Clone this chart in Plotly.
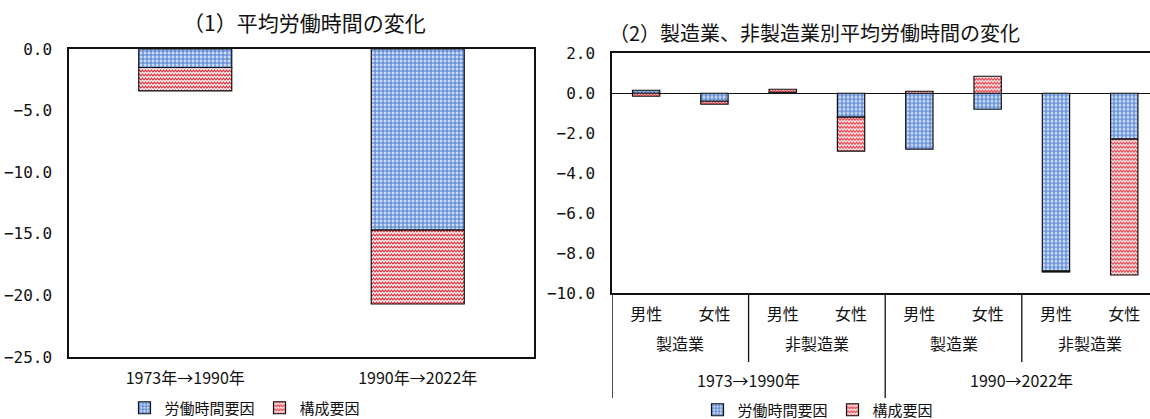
import plotly.graph_objects as go

# ---- data -------------------------------------------------------------
# (1) 平均労働時間の変化
periods_all = ["1973年→1990年", "1990年→2022年"]
hours_factor_all = [-1.5, -14.7]
composition_factor_all = [-1.9, -6.0]

# (2) 製造業、非製造業別平均労働時間の変化
sexes = ["男性", "女性", "男性", "女性", "男性", "女性", "男性", "女性"]
industries = ["製造業", "非製造業", "製造業", "非製造業"]
periods_ind = ["1973→1990年", "1990→2022年"]
hours_factor_ind = [0.15, -0.4, 0.05, -1.2, -2.8, -0.8, -8.9, -2.3]
composition_factor_ind = [-0.15, -0.15, 0.15, -1.7, 0.1, 0.85, -0.05, -6.8]

series_names = ["労働時間要因", "構成要因"]
left_tick_vals = [0, -5, -10, -15, -20, -25]
right_tick_vals = [2, 0, -2, -4, -6, -8, -10]

# ---- styling ----------------------------------------------------------
W, H = 1150, 419
FONT = "Noto Sans CJK JP"
NUM_FONT = "DejaVu Sans Mono"
INK = "#111111"


def px_x(p):
    return p / W


def px_y(p):
    return 1 - p / H


blue_pattern = dict(shape="+", fgcolor="#4a7bd0", bgcolor="#cddcf5",
                    size=4, solidity=0.45, fillmode="replace")
red_pattern = dict(shape="-", fgcolor="#e52b38", bgcolor="#ffffff",
                   size=4, solidity=0.4, fillmode="replace")

fig = go.Figure()

# left panel
for name, vals, pat in [
    (series_names[0], hours_factor_all, blue_pattern),
    (series_names[1], composition_factor_all, red_pattern),
]:
    fig.add_trace(go.Bar(
        x=periods_all, y=vals, name=name, xaxis="x", yaxis="y",
        marker=dict(color="white", pattern=pat, line=dict(color=INK, width=1.2)),
        legend="legend", hoverinfo="skip",
    ))

# right panel (numeric x positions, one per sex/industry/period bar)
xpos = list(range(1, len(sexes) + 1))
for name, vals, pat in [
    (series_names[0], hours_factor_ind, blue_pattern),
    (series_names[1], composition_factor_ind, red_pattern),
]:
    fig.add_trace(go.Bar(
        x=xpos, y=vals, name=name, xaxis="x2", yaxis="y2",
        marker=dict(color="white", pattern=pat, line=dict(color=INK, width=1.2)),
        legend="legend2", hoverinfo="skip",
    ))

catfont = dict(family=FONT, size=16, color=INK)
numfont = dict(family=NUM_FONT, size=16, color=INK)

right_x_end = 0.5 + (W - 612) / 68.3

fig.update_layout(
    width=W, height=H,
    margin=dict(l=0, r=0, t=0, b=0, autoexpand=False),
    paper_bgcolor="white", plot_bgcolor="white",
    barmode="relative", bargap=0.6,
    font=dict(family=FONT, color=INK),
    xaxis=dict(domain=[px_x(69), px_x(534)], showline=True, mirror=True,
               linecolor=INK, linewidth=1.5, showgrid=False, ticks="",
               tickfont=catfont, ticklabelstandoff=6),
    yaxis=dict(domain=[px_y(357), px_y(49)], range=[-25, 0],
               tickvals=left_tick_vals, tickformat=".1f",
               showline=True, mirror=True, linecolor=INK, linewidth=1.5,
               showgrid=False, zeroline=False, ticks="",
               tickfont=numfont, ticklabelstandoff=12),
    xaxis2=dict(domain=[px_x(612), 1], range=[0.5, right_x_end],
                tickvals=xpos, ticktext=sexes,
                showline=True, mirror=True, linecolor=INK, linewidth=1.5,
                showgrid=False, zeroline=False, ticks="",
                tickfont=catfont, ticklabelstandoff=6, anchor="y2"),
    yaxis2=dict(domain=[px_y(293), px_y(53.3)], range=[-10, 2],
                tickvals=right_tick_vals, tickformat=".1f",
                showline=True, mirror=False, linecolor=INK, linewidth=1.5,
                showgrid=False, zeroline=True, zerolinecolor=INK,
                zerolinewidth=1.2, ticks="", anchor="x2",
                tickfont=numfont, ticklabelstandoff=12),
    legend=dict(orientation="h", x=px_x(245), y=px_y(408), xanchor="center",
                yanchor="middle", font=dict(family=FONT, size=15, color=INK),
                itemwidth=30, traceorder="normal", bgcolor="rgba(0,0,0,0)"),
    legend2=dict(orientation="h", x=px_x(818), y=px_y(410), xanchor="center",
                 yanchor="middle", font=dict(family=FONT, size=15, color=INK),
                 itemwidth=30, traceorder="normal", bgcolor="rgba(0,0,0,0)"),
)

annotations = [
    dict(text="（1）平均労働時間の変化", x=px_x(304), y=px_y(22),
         xref="paper", yref="paper", xanchor="center", yanchor="middle",
         showarrow=False, font=dict(family=FONT, size=21, color=INK)),
    dict(text="（2）製造業、非製造業別平均労働時間の変化", x=px_x(814), y=px_y(32),
         xref="paper", yref="paper", xanchor="center", yanchor="middle",
         showarrow=False, font=dict(family=FONT, size=20, color=INK)),
]

# industry row and period row under the right panel
group_size = len(sexes) // len(industries)
for i, ind in enumerate(industries):
    center = 0.5 + group_size * i + group_size / 2
    annotations.append(dict(text=ind, x=center, y=px_y(343), xref="x2",
                            yref="paper", xanchor="center", yanchor="middle",
                            showarrow=False, font=catfont))
period_size = len(sexes) // len(periods_ind)
for i, per in enumerate(periods_ind):
    center = 0.5 + period_size * i + period_size / 2
    annotations.append(dict(text=per, x=center, y=px_y(380), xref="x2",
                            yref="paper", xanchor="center", yanchor="middle",
                            showarrow=False, font=catfont))
fig.update_layout(annotations=annotations)

# divider lines between groups
shapes = []
bottom_paper = px_y(293)
for k in range(1, len(industries)):
    xb = 0.5 + group_size * k
    is_period_break = (group_size * k) % period_size == 0
    y_end = px_y(398) if is_period_break else px_y(362)
    shapes.append(dict(type="line", xref="x2", yref="paper", x0=xb, x1=xb,
                       y0=bottom_paper, y1=y_end,
                       line=dict(color=INK, width=1.3)))
shapes.append(dict(type="line", xref="x2", yref="paper", x0=0.5, x1=0.5,
                   y0=bottom_paper, y1=px_y(398),
                   line=dict(color=INK, width=1.5)))
fig.update_layout(shapes=shapes)

# Redraw the red fill as a zigzag (wave) hatch instead of straight stripes.
wave_js = """
(function(){
  var gd = document.getElementById('{plot_id}');
  if (!gd) return;
  function wave(){
    var pats = gd.querySelectorAll('pattern');
    pats.forEach(function(p){
      var path = p.querySelector('path');
      if (!path) return;
      var st = (path.getAttribute('style') || '') + ' ' + (path.getAttribute('stroke') || '');
      if (st.indexOf('229, 43, 56') < 0 && st.toLowerCase().indexOf('e52b38') < 0) return;
      p.setAttribute('width', 6);
      p.setAttribute('height', 4);
      p.removeAttribute('patternTransform');
      var r = p.querySelector('rect');
      if (r) { r.setAttribute('width', 6); r.setAttribute('height', 4); }
      path.setAttribute('d', 'M-1.5,1L0,3L1.5,1L3,3L4.5,1L6,3L7.5,1');
      path.style.strokeWidth = '1.1px';
      path.style.fill = 'none';
    });
  }
  try { wave(); if (gd.on) gd.on('plotly_afterplot', wave); } catch (e) {}
})();
"""

fig.write_html("out.html", post_script=wave_js)
